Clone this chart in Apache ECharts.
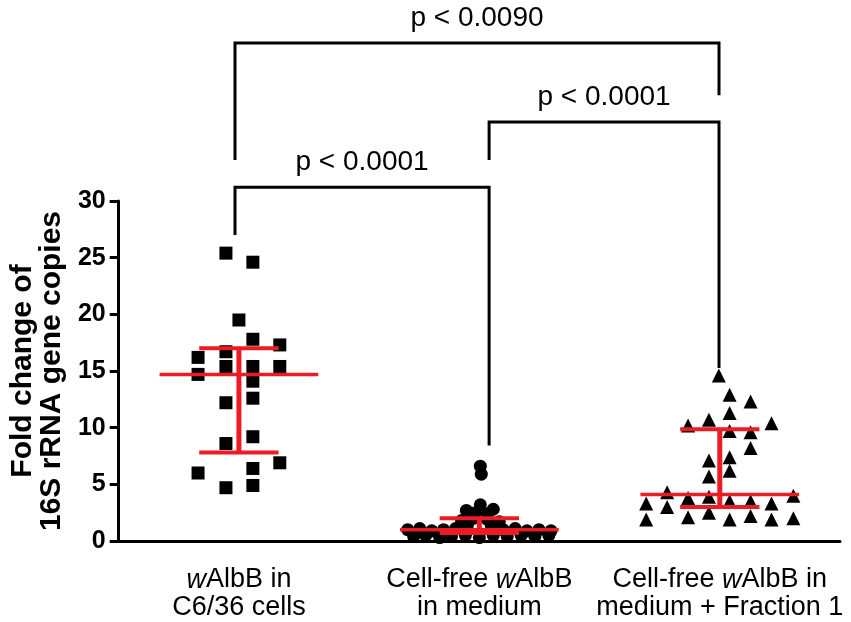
<!DOCTYPE html>
<html><head><meta charset="utf-8">
<script src="https://cdn.jsdelivr.net/npm/echarts@6/dist/echarts.min.js"></script>
<style>html,body{margin:0;padding:0;background:#fff}#c{width:851px;height:622px}</style>
</head><body><div id="c"></div>
<script>
// ---- data ----
const categories = ['{i|w}AlbB in\nC6/36 cells', 'Cell-free {i|w}AlbB\nin medium', 'Cell-free {i|w}AlbB in\nmedium + Fraction 1'];
const yTicks = [0, 5, 10, 15, 20, 25, 30];

// group 1: wAlbB in C6/36 cells (squares)
const g1Values = [25.4, 24.6, 19.5, 17.8, 17.3, 16.7, 16.2, 15.4, 15.4, 15.4, 14.7, 14.1, 12.6, 12.2, 9.2, 8.6, 6.9, 6.0, 6.4, 4.7, 4.9];
const g1Jitter = [-0.054, 0.058, 0, 0.058, 0.17, -0.054, -0.17, -0.054, 0.058, 0.17, -0.17, 0.058, 0.058, -0.054, 0.058, -0.054, 0.17, -0.17, 0.058, -0.054, 0.058];

// group 2: cell-free wAlbB in medium (circles)
const g2Values = [1.0, 1.1, 0.9, 1.0, 1.1, 1.0, 1.1, 0.9, 1.0, 0.9,
                  0.4, 0.5, 0.3, 0.4, 0.5, 0.3, 0.5, 0.4, 0.5, 0.4, 0.5,
                  1.8, 2.0, 1.9, 1.7, 1.4, 1.3,
                  2.7, 3.2, 2.8, 2.5, 2.4,
                  6.6, 5.9];
const g2Jitter = [-0.298, -0.248, -0.198, -0.149, -0.099, 0.099, 0.149, 0.198, 0.248, 0.298,
                  -0.273, -0.223, -0.165, -0.116, -0.058, 0, 0.058, 0.116, 0.174, 0.231, 0.289,
                  -0.074, -0.025, 0.033, 0.083, -0.050, 0.050,
                  -0.054, 0.004, 0.058, -0.017, 0.033,
                  0.004, 0.008];

// group 3: cell-free wAlbB in medium + Fraction 1 (triangles)
const g3Values = [14.6, 12.9, 12.3, 11.3, 10.7, 10.2, 10.4, 9.7, 9.6, 8.2, 7.1, 7.4, 5.7, 6.2,
                  4.3, 3.8, 3.9, 4.0, 3.3, 3.0, 3.5, 3.5, 3.3, 2.5, 1.9, 2.1, 1.9, 2.2, 1.9, 2.0];
const g3Jitter = [-0.004, 0.041, 0.128, 0.041, -0.045, -0.132, 0.215, 0.041, 0.128, 0.128, -0.045, 0.041, -0.045, 0.041,
                  -0.219, -0.132, -0.045, 0.306, -0.306, -0.219, 0.041, 0.128, 0.215, -0.045, -0.306, -0.132, 0.041, 0.128, 0.215, 0.306];

// summary lines (centre, lower, upper)
const summaryMean = [14.7, 1.0, 4.1];
const summaryLow = [7.8, 0.7, 3.0];
const summaryHigh = [17.0, 2.0, 9.85];

// significance brackets
const bracketFrom = [0, 1.05, 0];
const bracketTo = [1.05, 2, 2];
const bracketLevel = [31.2, 36.95, 43.9];
const bracketFromEnd = [27.0, 33.6, 33.6];
const bracketToEnd = [8.5, 15.3, 39.3];
const bracketLabels = ['p < 0.0001', 'p < 0.0001', 'p < 0.0090'];

// ---- chart ----
const FONT = '"Liberation Sans", Arial, Helvetica, sans-serif';
const RED = '#ec1c24';
const MEAN_HW = 0.33, CAP_HW = 0.165;

function pts(values, jitter, cat) {
  return values.map((v, i) => [cat + jitter[i], v]);
}

const chart = echarts.init(document.getElementById('c'), null, {renderer: 'canvas'});
chart.setOption({
  animation: false,
  backgroundColor: '#fff',
  textStyle: {fontFamily: FONT},
  grid: [
    {left: 114, right: 11, top: 201, bottom: 80},
    {left: 114, right: 11, top: 30.5, bottom: 80}
  ],
  xAxis: [
    {
      type: 'category', gridIndex: 0, data: categories, boundaryGap: true,
      axisLine: {onZero: false, lineStyle: {color: '#000', width: 3}},
      axisTick: {alignWithLabel: true, length: 6, lineStyle: {color: '#000', width: 3}},
      axisLabel: {
        color: '#000', fontSize: 27, fontFamily: FONT, lineHeight: 28, margin: 25, interval: 0,
        rich: {i: {fontStyle: 'italic', fontSize: 27, fontFamily: FONT, color: '#000', lineHeight: 28}}
      },
      splitLine: {show: false}
    },
    {type: 'value', gridIndex: 0, min: -0.5, max: 2.5, show: false},
    {type: 'value', gridIndex: 1, min: -0.5, max: 2.5, show: false}
  ],
  yAxis: [
    {
      type: 'value', gridIndex: 0, min: yTicks[0], max: yTicks[yTicks.length - 1], interval: 5,
      name: 'Fold change of\n16S rRNA gene copies', nameLocation: 'middle', nameRotate: 90, nameGap: 50,
      nameTextStyle: {fontSize: 30, fontWeight: 'bold', color: '#000', fontFamily: FONT, lineHeight: 29},
      axisLine: {show: true, onZero: false, lineStyle: {color: '#000', width: 3}},
      axisTick: {show: true, length: 9, lineStyle: {color: '#000', width: 3}},
      axisLabel: {color: '#000', fontSize: 25, fontWeight: 'bold', fontFamily: FONT, margin: 13},
      splitLine: {show: false}
    },
    {type: 'value', gridIndex: 1, min: 0, max: 45, show: false}
  ],
  series: [
    {type: 'scatter', xAxisIndex: 1, yAxisIndex: 0, symbol: 'rect', symbolSize: 13,
     itemStyle: {color: '#000', opacity: 1}, data: pts(g1Values, g1Jitter, 0), z: 2},
    {type: 'scatter', xAxisIndex: 1, yAxisIndex: 0, symbol: 'circle', symbolSize: 13,
     itemStyle: {color: '#000', opacity: 1}, data: pts(g2Values, g2Jitter, 1), z: 2, clip: false},
    {type: 'scatter', xAxisIndex: 1, yAxisIndex: 0, symbol: 'triangle', symbolSize: 14,
     itemStyle: {color: '#000', opacity: 1}, data: pts(g3Values, g3Jitter, 2), z: 2},
    {
      type: 'custom', xAxisIndex: 1, yAxisIndex: 0, z: 5, clip: false,
      data: summaryMean.map((m, i) => [i, m, summaryLow[i], summaryHigh[i]]),
      encode: {x: 0, y: [1, 2, 3]},
      renderItem(params, api) {
        const x = api.value(0), m = api.value(1), lo = api.value(2), hi = api.value(3);
        const line = (a, b, w) => ({type: 'line', shape: {x1: a[0], y1: a[1], x2: b[0], y2: b[1]},
          style: {stroke: RED, lineWidth: w}});
        return {type: 'group', children: [
          line(api.coord([x, lo]), api.coord([x, hi]), 5),
          line(api.coord([x - CAP_HW, hi]), api.coord([x + CAP_HW, hi]), 4),
          line(api.coord([x - CAP_HW, lo]), api.coord([x + CAP_HW, lo]), 4),
          line(api.coord([x - MEAN_HW, m]), api.coord([x + MEAN_HW, m]), 3.5)
        ]};
      }
    },
    {
      type: 'custom', xAxisIndex: 2, yAxisIndex: 1, z: 5, clip: false,
      data: bracketFrom.map((f, i) => [f, bracketTo[i], bracketLevel[i], bracketFromEnd[i], bracketToEnd[i]]),
      encode: {x: [0, 1], y: [2, 3, 4]},
      renderItem(params, api) {
        const f = api.value(0), t = api.value(1), lv = api.value(2), fe = api.value(3), te = api.value(4);
        const p1 = api.coord([f, fe]), p2 = api.coord([f, lv]), p3 = api.coord([t, lv]), p4 = api.coord([t, te]);
        return {type: 'group', children: [
          {type: 'polyline', shape: {points: [p1, p2, p3, p4]},
           style: {stroke: '#000', lineWidth: 3, fill: null, lineJoin: 'miter'}},
          {type: 'text', x: (p2[0] + p3[0]) / 2, y: p2[1] - 25,
           style: {text: bracketLabels[params.dataIndex], fill: '#000', font: '28px ' + FONT,
                   align: 'center', verticalAlign: 'middle'}}
        ]};
      }
    }
  ]
});
</script>
</body></html>
